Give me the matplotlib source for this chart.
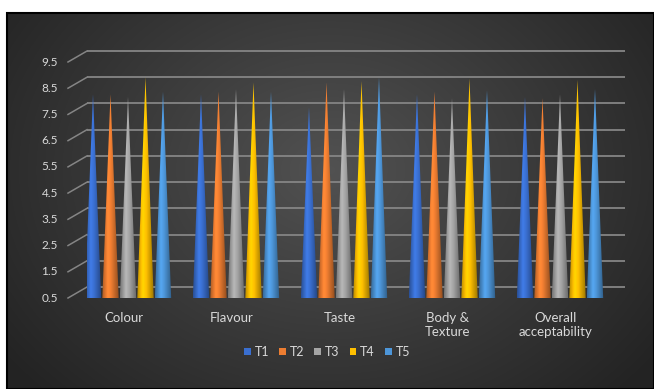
import numpy as np
from matplotlib import pyplot as plt
from matplotlib.patches import Polygon, Rectangle, Patch
from matplotlib.colors import to_rgb

plt.rcParams['font.family'] = ['Lato', 'DejaVu Sans']

categories = ['Colour', 'Flavour', 'Taste', 'Body &\nTexture', 'Overall\nacceptability']
series = ['T1', 'T2', 'T3', 'T4', 'T5']
t1 = [7.85, 7.85, 7.35, 7.85, 7.75]
t2 = [7.85, 7.95, 8.3, 7.95, 7.7]
t3 = [7.75, 8.05, 8.05, 7.7, 7.85]
t4 = [8.5, 8.3, 8.35, 8.45, 8.4]
t5 = [7.95, 7.95, 8.5, 8.0, 8.05]
values = [t1, t2, t3, t4, t5]
colors = ['#3a6fd0', '#ed7d31', '#a5a5a5', '#ffc000', '#4d96d9']
yticks = [0.5, 1.5, 2.5, 3.5, 4.5, 5.5, 6.5, 7.5, 8.5, 9.5]

W, H = 654, 389
fig = plt.figure(figsize=(W / 100, H / 100), dpi=100)
fig.patch.set_facecolor('white')

# dark radial background of the chart area
bg = fig.add_axes([0, 0, 1, 1])
bg.set_xlim(0, W)
bg.set_ylim(H, 0)
bg.axis('off')
gx, gy = np.meshgrid(np.linspace(7, W, 300), np.linspace(13, H, 200))
r = np.sqrt(((gx - 330) / 380) ** 2 + ((gy - 170) / 300) ** 2)
shade = np.clip(0.32 - 0.17 * r, 0.14, 0.32)
bg.imshow(np.dstack([shade] * 3), extent=(7, W, H, 13), aspect='auto', interpolation='bilinear')
bg.add_patch(Rectangle((7, 13), W - 7, H - 13, fill=False, edgecolor='black', lw=1.5))

# plot area: back wall from x=87..625, gridlines 9.5 at y=51, 0.5 at y=287
px_per_unit = (287 - 51) / 9
ylo = 0.5 - 11 / px_per_unit
yhi = 9.5 + 11 / px_per_unit
grp = 108.0
xlo = (87 - 128) / grp
xhi = (625 - 128) / grp
ax = fig.add_axes([87 / W, (H - 298) / H, (625 - 87) / W, (298 - 40) / H])
ax.set_xlim(xlo, xhi)
ax.set_ylim(ylo, yhi)
ax.patch.set_alpha(0)
ax.axis('off')

dx = -19 / grp
dy = -11 / px_per_unit
for v in yticks:
    ax.plot([xlo, xhi], [v, v], color='#858585', lw=1.3, zorder=1)
    ax.plot([xlo + dx, xlo], [v + dy, v], color='#858585', lw=1.1, zorder=1, clip_on=False)
    ax.text(xlo - 29 / grp, v + dy, '%.1f' % v, ha='right', va='center',
            fontsize=8.5, color='#d9d9d9', clip_on=False)

# cones with a horizontal light gradient
pitch = 17.5 / grp
half = 8.2 / grp
u = np.linspace(0, 1, 40)
light = np.interp(u, [0, 0.35, 0.55, 1], [0.72, 1.12, 1.0, 0.62])
for i, (vals, c) in enumerate(zip(values, colors)):
    base = np.array(to_rgb(c))
    grad = np.clip(base[None, :] * light[:, None], 0, 1)[None, :, :]
    for g, v in enumerate(vals):
        xc = g + (i - 2) * pitch
        tri = Polygon([[xc - half, ylo], [xc + half, ylo], [xc, v]], closed=True,
                      facecolor='none', edgecolor='none')
        ax.add_patch(tri)
        im = ax.imshow(grad, extent=(xc - half, xc + half, ylo, v), aspect='auto',
                       interpolation='bilinear', zorder=3)
        im.set_clip_path(tri)

ax.set_xlim(xlo, xhi)
ax.set_ylim(ylo, yhi)

for g, name in enumerate(categories):
    ax.text(g - 4 / grp, 0.5 - (312 - 287) / px_per_unit, name, ha='center', va='top',
            fontsize=9.5, color='#d9d9d9', linespacing=1.25, clip_on=False)

handles = [Patch(facecolor=c, edgecolor='none') for c in colors]
fig.legend(handles, series, loc='center', bbox_to_anchor=(327 / W, 1 - 352 / H),
           ncol=5, frameon=False, fontsize=9, labelcolor='#d9d9d9',
           handlelength=0.55, handleheight=0.55, handletextpad=0.3, columnspacing=0.8)

fig.savefig('out.png', dpi=100)
